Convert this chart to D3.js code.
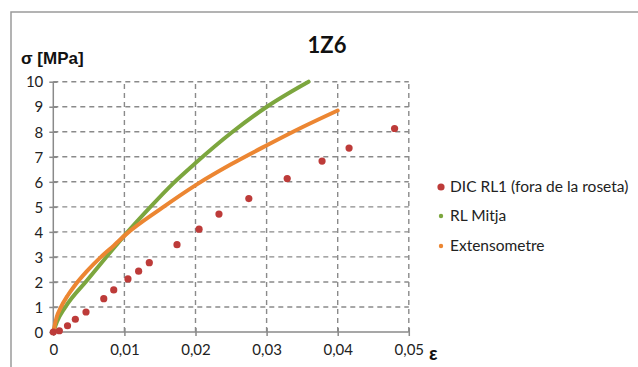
<!DOCTYPE html>
<html><head><meta charset="utf-8">
<script src="https://cdn.jsdelivr.net/npm/d3@7"></script>
<style>body{margin:0;background:#fff}svg{display:block}</style>
</head><body>
<script>
const title = "1Z6";
const yLabel = "σ [MPa]";
const xLabel = "ε";
const xTicks = [0, 0.01, 0.02, 0.03, 0.04, 0.05];
const xTickLabels = ["0", "0,01", "0,02", "0,03", "0,04", "0,05"];
const yTicks = [0,1,2,3,4,5,6,7,8,9,10];
const seriesNames = ["DIC RL1 (fora de la roseta)", "RL Mitja", "Extensometre"];

// DIC RL1 points
const dicX = [0, 0.00085, 0.0020, 0.0031, 0.0046, 0.0071, 0.0085, 0.0105, 0.0120, 0.0135, 0.0174, 0.0205, 0.0233, 0.0275, 0.0329, 0.0378, 0.0416, 0.0480];
const dicY = [0, 0.05, 0.25, 0.51, 0.80, 1.33, 1.68, 2.12, 2.43, 2.77, 3.49, 4.11, 4.71, 5.33, 6.13, 6.83, 7.35, 8.13];

// RL Mitja curve
const rlX = [0, 0.0005, 0.0017, 0.0047, 0.0074, 0.0103, 0.0135, 0.0169, 0.0200, 0.0250, 0.0303, 0.0359];
const rlY = [0, 0.40, 1.00, 2.05, 2.98, 3.95, 4.95, 5.95, 6.75, 7.95, 9.05, 10.0];

// Extensometre curve
const exX = [0, 0.0005, 0.0010, 0.0020, 0.0030, 0.0047, 0.0066, 0.0085, 0.0103, 0.0150, 0.0202, 0.0250, 0.0301, 0.0350, 0.0400];
const exY = [0, 0.62, 0.95, 1.45, 1.85, 2.42, 2.97, 3.45, 3.92, 4.90, 5.90, 6.70, 7.47, 8.18, 8.85];

const W = 638, H = 367;
const colRed = "#bd3b39", colGreen = "#7ca63e", colOrange = "#ec8632";
const grid = "#8a8a8a";
const font = "Lato, 'Open Sans', sans-serif";

const svg = d3.select("body").append("svg").attr("width", W).attr("height", H);

// outer frame
svg.append("rect").attr("x", 11).attr("y", 12).attr("width", 700).attr("height", 400)
  .attr("fill", "none").attr("stroke", "#9a9a9a").attr("stroke-width", 1.5);

const x = d3.scaleLinear().domain([0, 0.05]).range([53.3, 408.8]);
const y = d3.scaleLinear().domain([0, 10]).range([332, 81.7]);

// gridlines
svg.append("g").selectAll("line").data(yTicks.filter(d => d > 0)).join("line")
  .attr("x1", x(0)).attr("x2", x(0.05)).attr("y1", d => y(d)).attr("y2", d => y(d))
  .attr("stroke", grid).attr("stroke-width", 1.4).attr("stroke-dasharray", "5,4");
svg.append("g").selectAll("line").data(xTicks.filter(d => d > 0)).join("line")
  .attr("x1", d => x(d)).attr("x2", d => x(d)).attr("y1", y(0)).attr("y2", y(10))
  .attr("stroke", grid).attr("stroke-width", 1.4).attr("stroke-dasharray", "5,4");

// axes
const yAxis = svg.append("g").attr("transform", `translate(${x(0)},0)`)
  .call(d3.axisLeft(y).tickValues(yTicks).tickSize(4).tickFormat(d => d));
yAxis.select(".domain").attr("stroke", grid).attr("stroke-width", 1.5).attr("d", `M0,${y(0)}V${y(10)}`);
yAxis.selectAll(".tick line").attr("stroke", grid).attr("stroke-width", 1.5).attr("x1", 4);
yAxis.selectAll(".tick text").attr("x", -10).attr("dy", "0.35em")
  .style("font-family", font).style("font-size", "15px").attr("fill", "#222");

const xAxis = svg.append("g").attr("transform", `translate(0,${y(0)})`)
  .call(d3.axisBottom(x).tickValues(xTicks).tickSize(4).tickFormat((d, i) => xTickLabels[i]));
xAxis.select(".domain").attr("stroke", grid).attr("stroke-width", 1.5).attr("d", `M${x(0)},0H${x(0.05)}`);
xAxis.selectAll(".tick line").attr("stroke", grid).attr("stroke-width", 1.5).attr("y1", -4);
xAxis.selectAll(".tick text").attr("y", 12).attr("dy", "0.71em")
  .style("font-family", font).style("font-size", "15px").attr("fill", "#222");

// curves
const line = d3.line().x(d => x(d[0])).y(d => y(d[1])).curve(d3.curveMonotoneX);
const exData = exX.map((v, i) => [v, exY[i]]);
const rlData = rlX.map((v, i) => [v, rlY[i]]);
svg.append("path").datum(rlData).attr("d", line).attr("fill", "none")
  .attr("stroke", colGreen).attr("stroke-width", 4).attr("stroke-linecap", "round");
svg.append("path").datum(exData).attr("d", line).attr("fill", "none")
  .attr("stroke", colOrange).attr("stroke-width", 4).attr("stroke-linecap", "round");

// DIC points
svg.append("g").selectAll("circle").data(dicX.map((v, i) => [v, dicY[i]])).join("circle")
  .attr("cx", d => x(d[0])).attr("cy", d => y(d[1])).attr("r", 3.6).attr("fill", colRed);

// title
svg.append("text").attr("x", 327).attr("y", 53).attr("text-anchor", "middle")
  .style("font-family", font).style("font-weight", "bold").style("font-size", "22px")
  .attr("fill", "#111").text(title);
svg.append("text").attr("x", 21).attr("y", 64)
  .style("font-family", "'Liberation Sans', Arial, sans-serif").style("font-weight", "bold").style("font-size", "17px")
  .attr("fill", "#111").text(yLabel);
svg.append("text").attr("x", 429).attr("y", 360)
  .style("font-family", "'Liberation Sans', Arial, sans-serif").style("font-weight", "bold").style("font-size", "18px")
  .attr("fill", "#111").text(xLabel);

// legend
const legCols = [colRed, colGreen, colOrange];
const legR = [3.6, 2.2, 2.2];
const legY = [187, 216, 246];
const leg = svg.append("g");
seriesNames.forEach((n, i) => {
  leg.append("circle").attr("cx", 441).attr("cy", legY[i]).attr("r", legR[i]).attr("fill", legCols[i]);
  leg.append("text").attr("x", 450).attr("y", legY[i]).attr("dy", "0.35em")
    .style("font-family", font).style("font-size", "15.5px").attr("fill", "#222").text(n);
});
</script>
</body></html>
